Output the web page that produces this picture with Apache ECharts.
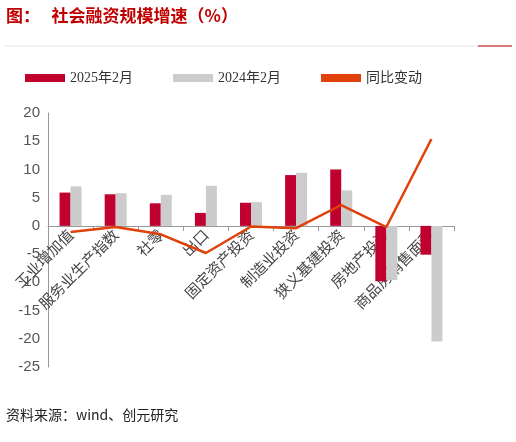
<!DOCTYPE html>
<html>
<head>
<meta charset="utf-8">
<script src="https://cdn.jsdelivr.net/npm/echarts@6/dist/echarts.min.js"></script>
<style>
  body { margin: 0; padding: 0; background: #fff; }
  #main { width: 516px; height: 442px; }
</style>
</head>
<body>
<div id="main"></div>
<script>
// 数据
const categories = ['工业增加值', '服务业生产指数', '社零', '出口', '固定资产投资', '制造业投资', '狭义基建投资', '房地产投资', '商品房销售面积'];
const feb2025 = [5.9, 5.6, 4.0, 2.3, 4.1, 9.0, 10.0, -9.8, -5.1];
const feb2024 = [7.0, 5.8, 5.5, 7.1, 4.2, 9.4, 6.3, -9.6, -20.5];
const change = [-1.1, -0.2, -1.5, -4.8, -0.1, -0.4, 3.7, -0.2, 15.4];
const yTicks = [-25, 20, 5];

const chart = echarts.init(document.getElementById('main'));
chart.setOption({
  animation: false,
  textStyle: { fontFamily: 'Noto Sans CJK SC' },
  graphic: [
    { type: 'text', left: 6, top: 7, style: { text: '图：   社会融资规模增速（%）', fill: '#c00000', font: 'bold 17px "Noto Sans CJK SC"' } },
    { type: 'line', shape: { x1: 4, y1: 46, x2: 512, y2: 46 }, style: { stroke: '#e6e6e6', lineWidth: 1 } },
    { type: 'line', shape: { x1: 478, y1: 46, x2: 512, y2: 46 }, style: { stroke: '#c00000', lineWidth: 1 } },
    { type: 'text', left: 6, top: 408, style: { text: '资料来源：wind、创元研究', fill: '#222', font: '14px "Noto Sans CJK SC"' } }
  ],
  legend: {
    top: 66, left: 20, itemGap: 40, itemWidth: 40, itemHeight: 8,
    textStyle: { color: '#333', fontSize: 14, fontFamily: 'Liberation Serif, Noto Sans CJK SC' },
    data: [
      { name: '2025年2月', icon: 'rect' },
      { name: '2024年2月', icon: 'rect' },
      { name: '同比变动', icon: 'rect', itemStyle: { color: '#e0400a' } }
    ]
  },
  grid: { left: 48, right: 62, top: 113, bottom: 75 },
  xAxis: {
    type: 'category', data: categories,
    offset: -141,
    axisLine: { onZero: false, lineStyle: { color: '#999' } },
    axisTick: { show: true, lineStyle: { color: '#999' } },
    axisLabel: { rotate: 45, color: '#444', fontSize: 15, margin: 6, interval: 0 }
  },
  yAxis: {
    type: 'value', min: yTicks[0], max: yTicks[1], interval: yTicks[2],
    splitLine: { show: false },
    axisLine: { show: true, lineStyle: { color: '#999' } },
    axisTick: { show: false },
    axisLabel: { color: '#555', fontSize: 15, fontFamily: 'Liberation Sans' }
  },
  series: [
    { name: '2025年2月', type: 'bar', data: feb2025, barWidth: 11, barGap: '0%', itemStyle: { color: '#c0002f' } },
    { name: '2024年2月', type: 'bar', data: feb2024, barWidth: 11, itemStyle: { color: '#cccccc' } },
    { name: '同比变动', type: 'line', data: change, symbol: 'none', lineStyle: { color: '#e0400a', width: 2.5 }, z: 5 }
  ]
});
</script>
</body>
</html>
